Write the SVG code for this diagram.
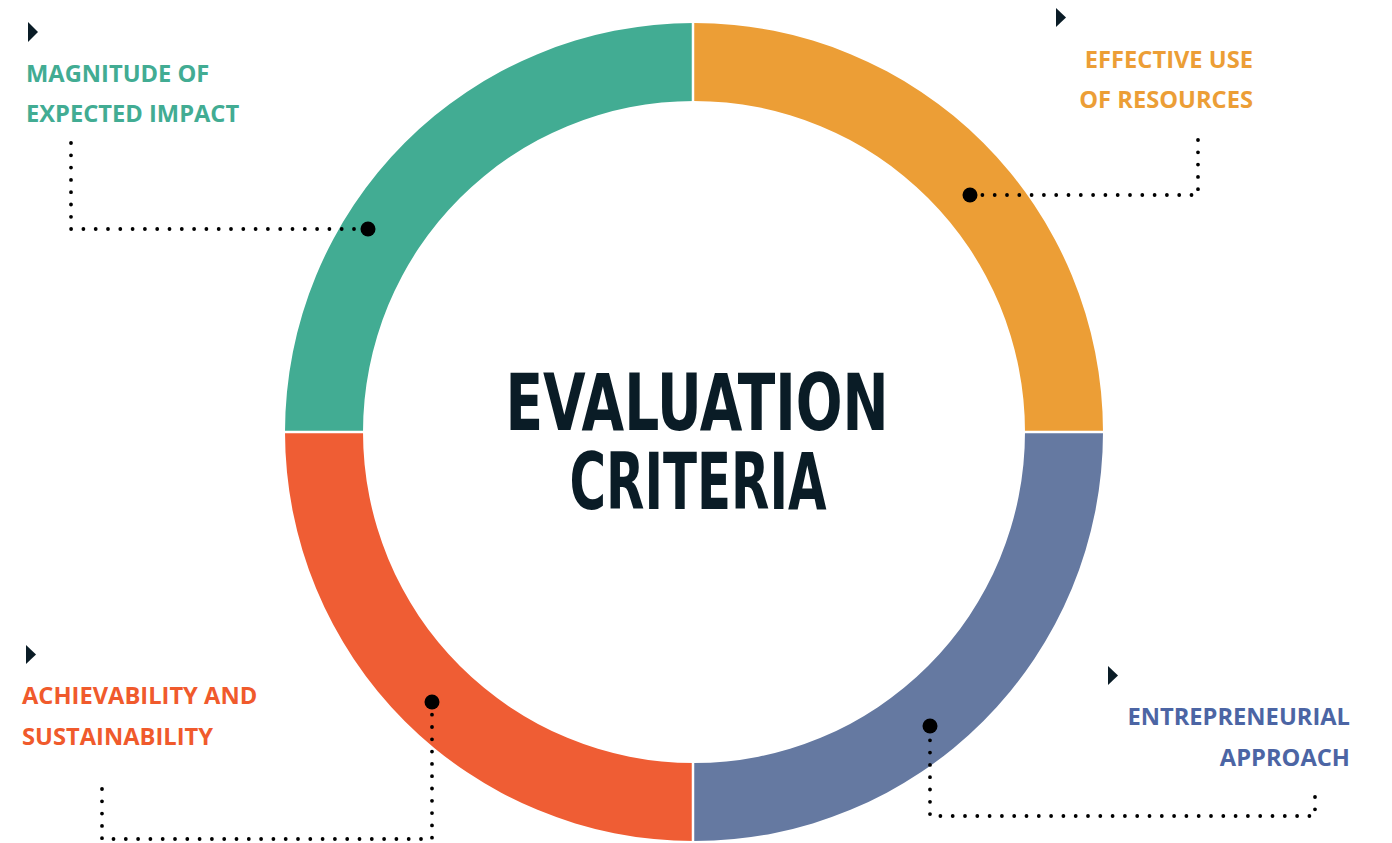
<svg xmlns="http://www.w3.org/2000/svg" width="1392" height="843" viewBox="0 0 1392 843">
<style>
.lbl{font-family:"Open Sans","Liberation Sans",sans-serif;font-weight:bold;font-size:23.7px}
.title{font-family:"Liberation Sans Narrow","DejaVu Sans Condensed","Liberation Sans",sans-serif;font-weight:bold;font-size:79px;fill:#0a1c26;text-anchor:middle}
.tri{fill:#0a1c26}
.dots{fill:none;stroke:#000;stroke-width:3.8;stroke-linecap:round;stroke-dasharray:0 12.3}
.pin{fill:#000}
.gap{stroke:#fff;stroke-width:2.5}
</style>
<rect width="1392" height="843" fill="#fff"/>
<g id="ring">
<path id="seg-green" fill="#42ac93" d="M285,432 A409,409 0 0 1 694,23 L694,101 A331,331 0 0 0 363,432 Z"/>
<path id="seg-orange" fill="#ec9e36" d="M694,23 A409,409 0 0 1 1103,432 L1025,432 A331,331 0 0 0 694,101 Z"/>
<path id="seg-blue" fill="#6579a1" d="M1103,432 A409,409 0 0 1 694,841 L694,763 A331,331 0 0 0 1025,432 Z"/>
<path id="seg-red" fill="#ef5d34" d="M694,841 A409,409 0 0 1 285,432 L363,432 A331,331 0 0 0 694,763 Z"/>
<line class="gap" x1="693" y1="20" x2="693" y2="104"/>
<line class="gap" x1="693" y1="760" x2="693" y2="843"/>
<line class="gap" x1="282" y1="432" x2="366" y2="432"/>
<line class="gap" x1="1022" y1="432" x2="1106" y2="432"/>
</g>
<g id="title">
<text class="title" x="697" y="430" textLength="383" lengthAdjust="spacingAndGlyphs">EVALUATION</text>
<text class="title" x="698" y="509" textLength="257" lengthAdjust="spacingAndGlyphs">CRITERIA</text>
</g>
<g id="connectors">
<path class="dots" d="M71,143 L71,229 L360,229"/>
<circle class="pin" cx="368" cy="229" r="7.5"/>
<path class="dots" d="M1198,140 L1198,195 L978,195"/>
<circle class="pin" cx="970" cy="195" r="7.5"/>
<path class="dots" d="M102,789 L102,839 L432,839 L432,710"/>
<circle class="pin" cx="432" cy="702" r="7.5"/>
<path class="dots" d="M1315,797 L1315,816 L930,816 L930,734"/>
<circle class="pin" cx="930" cy="726" r="7.5"/>
</g>
<g id="node-magnitude">
<polygon class="tri" points="28,22 38,32 28,42"/>
<text class="lbl" fill="#42ac93" x="26" y="82">MAGNITUDE OF</text>
<text class="lbl" fill="#42ac93" x="26" y="122">EXPECTED IMPACT</text>
</g>
<g id="node-resources">
<polygon class="tri" points="1056,8 1066,17.5 1056,27"/>
<text class="lbl" fill="#ec9e36" x="1253" y="68" text-anchor="end">EFFECTIVE USE</text>
<text class="lbl" fill="#ec9e36" x="1253" y="108" text-anchor="end">OF RESOURCES</text>
</g>
<g id="node-achievability">
<polygon class="tri" points="26,645 36,654.5 26,664"/>
<text class="lbl" fill="#f05a2c" x="22" y="704">ACHIEVABILITY AND</text>
<text class="lbl" fill="#f05a2c" x="22" y="745">SUSTAINABILITY</text>
</g>
<g id="node-entrepreneurial">
<polygon class="tri" points="1108,666 1118,675.5 1108,685"/>
<text class="lbl" fill="#4c65a4" x="1350" y="725" text-anchor="end">ENTREPRENEURIAL</text>
<text class="lbl" fill="#4c65a4" x="1350" y="766" text-anchor="end">APPROACH</text>
</g>
</svg>
